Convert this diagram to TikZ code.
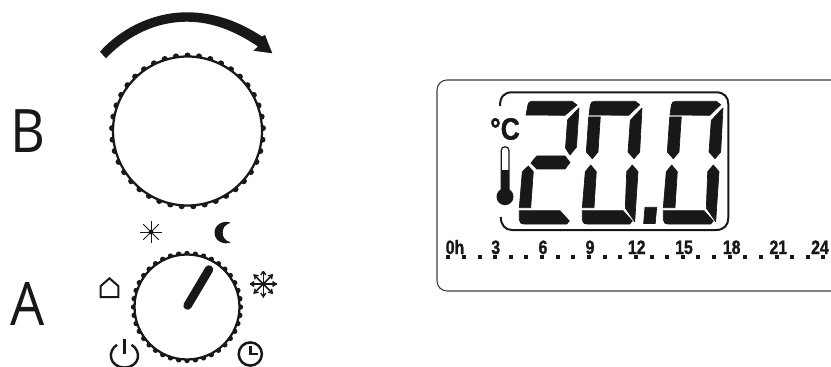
\documentclass[tikz,border=0pt]{standalone}
\usepackage{fontspec}
\usetikzlibrary{calc}
\setmainfont{Liberation Sans}
\newfontfamily\labelfont{Open Sans}
\newfontfamily\heavyfont[UprightFont=* Bold,FakeBold=1.5]{Liberation Sans}
\definecolor{ink}{HTML}{1A171B}
\tikzset{
  seg/.style={fill=ink,draw=ink,line width=0.5pt,line join=round},
  bigletter/.style={inner sep=0pt,text=ink,xscale=0.9,font=\labelfont\fontsize{45}{50}\selectfont},
  hourlabel/.style={inner sep=0pt,text=ink,anchor=base,xscale=0.82,font=\heavyfont\fontsize{14.5}{16}\selectfont},
  icon/.style={draw=ink,line width=1.5pt},
  dial/.style={draw=ink,fill=white,line width=1.7pt}
}
\newcommand{\zerodigit}{%
  \filldraw[seg] (589,115) -- (590.3,105.3) .. controls (590.8,102.5) and (592,101.3) .. (594.7,101.3) -- (635.3,101.3) -- (639.7,104.7) -- (628.7,115.3) -- cycle;
  \filldraw[seg] (588.7,117) -- (600.3,117) -- (598,152) -- (592.3,158.7) -- (586.3,152) -- cycle;
  \filldraw[seg] (642,108) -- (639.7,152) -- (634,158.7) -- (628,152) -- (630.3,120.3) -- cycle;
  \filldraw[seg] (590.7,165) -- (596.3,171.7) -- (594,207.7) -- (582.3,207.7) -- (585.3,171.7) -- cycle;
  \filldraw[seg] (632.3,165) -- (638,171.7) -- (634.7,221.7) -- (625.3,208) -- (626.7,171.7) -- cycle;
  \filldraw[seg] (582.3,210.7) -- (623,210.7) -- (632.3,221) -- (629.7,224) -- (587.3,224) .. controls (584,224) and (582.3,222.5) .. (582.3,219.5) -- cycle;
}
\begin{document}
\begin{tikzpicture}[x=0.75pt,y=-0.75pt]
\useasboundingbox (0,0) rectangle (831,367);
\clip (0,0) rectangle (831,367);
% letters
\node[bigletter] (letterB) at (28,131) {B};
\node[bigletter] (letterA) at (27.5,303.5) {A};
% arrow
\fill[ink] (100,51.7) .. controls (122,27) and (155,12.3) .. (186.7,12.3)
  .. controls (215,12.3) and (240,22) .. (262,36.5) -- (265,35) -- (272.3,53.3) -- (253.3,50.7) -- (258,46.5)
  .. controls (235,31) and (212,21.7) .. (186.7,21.7)
  .. controls (157,21.7) and (128,35) .. (106,58.3) -- cycle;
% knob B
\foreach \i in {0,...,40} {
  \fill[ink] ($(187.5,131)+({-90+\i*360/41}:75.4)$) circle (3.1);
}
\draw[dial] (187.5,131) circle (74.5);
% knob A
\foreach \i in {0,...,39} {
  \fill[ink] ($(187,307)+({-90+\i*9}:53.5)$) circle (2.7);
}
\draw[dial] (187,307) circle (52.5);
\draw[ink,line width=6.4pt,line cap=round] (187.6,305.5) -- (209,269.5);
% sun
\foreach \a in {0,45,...,315} { \draw[ink,line width=0.7pt] (151,232) -- ++(\a:11); }
\fill[ink] (151,232) circle (2.4);
% moon
\fill[ink] (230.7,222.7) .. controls (224,220) and (214.5,224) .. (214.5,232.7)
  .. controls (214.5,241) and (224,245.5) .. (230.7,242.3)
  .. controls (225,241) and (222.7,237) .. (222.7,232.7)
  .. controls (222.7,228) and (225,224.5) .. (230.7,222.7) -- cycle;
% snowflake
\foreach \a in {0,45,...,315} {
  \draw[ink,line width=1.2pt] (263.3,284) -- ++(\a:13.5);
  \draw[ink,line width=1.1pt] ($(263.3,284)+(\a:12.5)$) -- ($(263.3,284)+(\a+15:9.5)$);
  \draw[ink,line width=1.1pt] ($(263.3,284)+(\a:12.5)$) -- ($(263.3,284)+(\a-15:9.5)$);
}
% house
\draw[icon,line join=miter] (100.7,297) -- (100.7,286) -- (109.5,278.3) -- (118.3,286) -- (118.3,297) -- cycle;
% power
\draw[ink,line width=1.8pt] (117,344.8) .. controls (107,351) and (109,367) .. (124.5,367.5) .. controls (140,367) and (142,351) .. (131.5,344.8);
\draw[ink,line width=1.9pt] (124.3,338.5) -- (124.3,354);
% clock
\draw[ink,line width=1.9pt] (250.3,354) circle (11.6);
\draw[ink,line width=1.8pt] (250.5,345.5) -- (250.5,354) -- (258,354);
% LCD outline
\draw[ink!85,line width=0.8pt,rounded corners=7.5pt] (437,80) rectangle (842,291);
% inner frame
\draw[ink,line width=1.5pt] (500,106) .. controls (500,97) and (504,92.3) .. (512,92.3) -- (716,92.3)
  .. controls (724,92.3) and (728.3,97) .. (728.3,104) -- (728.3,218)
  .. controls (728.3,225) and (724,230) .. (716,230) -- (512,230) .. controls (505,230) and (501,225) .. (500.7,217);
% digit 2
\filldraw[seg] (526,115) -- (528,104.5) .. controls (528.5,102.5) and (529.5,101.3) .. (532,101.3) -- (572,101.3) -- (577,105) -- (565,115.3) -- cycle;
\filldraw[seg] (579,108) -- (576.5,147) -- (570,155) -- (565.5,148) -- (567.5,120) -- cycle;
\filldraw[seg] (531,163) -- (536.7,156) -- (565,156) -- (570,162.5) -- (565,169) -- (536.7,169) -- cycle;
\filldraw[seg] (528.3,166) -- (533.3,171.7) -- (530.7,207.7) -- (519.3,207.7) -- (522.3,171.7) -- cycle;
\filldraw[seg] (519.3,210.7) -- (560,210.7) -- (569.3,221) -- (566.7,224) -- (524.3,224) .. controls (521,224) and (519.3,222.5) .. (519.3,219.5) -- cycle;
% digit 0 and digit 0
\zerodigit
\begin{scope}[xshift=60.75pt]\zerodigit\end{scope}
% decimal point
\filldraw[seg] (645,207.3) -- (656.7,207.3) -- (655.2,223.5) -- (643.6,223.5) -- cycle;
% degree label and thermometer
\node[inner sep=0pt,text=ink,xscale=0.86,font=\heavyfont\fontsize{23}{25}\selectfont] (deg) at (505,129) {°C};
\draw[ink,line width=0.9pt,fill=white] (501.2,195) -- (501.2,150.5) .. controls (501.2,145.5) and (509,145.5) .. (509,150.5) -- (509,195);
\fill[ink] (501,170) rectangle (509.2,195);
\fill[ink] (505,196.7) circle (8.5);
% hour dots
\foreach \i in {0,...,24} {
  \fill[ink] ({448.3+\i*15.63-2},254.5) rectangle ++(4,4.6);
}
% hour labels
\foreach \t/\x in {0h/455,3/495.7,6/543,9/590,12/636.7,15/684,18/731.7,21/778.3,24/820} {
  \node[hourlabel] (h\t) at (\x,254) {\t};
}
\end{tikzpicture}
\end{document}
